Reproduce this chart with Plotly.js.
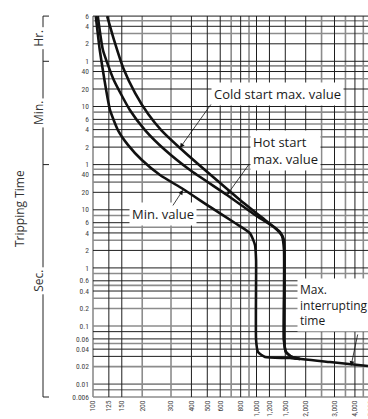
<!DOCTYPE html>
<html><head><meta charset="utf-8">
<script src="https://cdn.plot.ly/plotly-3.0.1.min.js"></script>
<style>html,body{margin:0;padding:0;overflow:hidden;background:#fff}</style>
</head><body>
<div id="chart" style="width:376px;height:419px"></div>
<script>
// ---- data ----
const xTickVals = [100,125,150,200,300,400,500,600,800,1000,1200,1500,2000,3000,4000,5000];
const xTickText = ['100','125','150','200','300','400','500','600','800','1,000','1,200','1,500','2,000','3,000','4,000','5,000'];
const xGridDark = [125,150,400,500,600,800,1000,1200,1500,2000,3000,4000,5000];
const xGridGrey = [100,200,300,700,900,2500,3500,4500];

// tripping time in seconds; labels shown in Hr / Min / Sec units
const yTickVals = [21600,14400,7200,3600,2400,1200,600,360,240,120,60,40,20,10,6,4,2,1,0.6,0.4,0.2,0.1,0.06,0.04,0.02,0.01,0.006];
const yTickText = ['6','4','2','1','40','20','10','6','4','2','1','40','20','10','6','4','2','1','0.6','0.4','0.2','0.1','0.06','0.04','0.02','0.01','0.006'];
const yGridDark = [21600,14400,7200,3600,2400,1200,600,360,240,120,60,40,20,10,6,4,2,1,0.6,0.4,0.08,0.06,0.04,0.03];
const yGridGrey = [18000,10800,3000,1800,480,300,180,50,30,8,5,3,0.8,0.5,0.3,0.2,0.1,0.05,0.02,0.01,0.008,0.006];

// unit bands (seconds): Hr, Min, Sec
const unitNames = ['Hr.','Min.','Sec.'];
const unitBounds = [21600,3600,60,0.006];

const minCurrent = [104,110,117.5,127,142,164,199,257,355,520,739,912,979,994,994,1021,1127,1603,2815,4808];
const minTime    = [21600,5630,1715,523,236,130,72,39.7,22.8,11.2,5.93,3.98,2.48,1.37,0.0574,0.0357,0.0293,0.0281,0.024,0.0205];

const hotCurrent = [107,115,134,168,208,276,392,660,979,1297,1432,1473,1473,1514,1648,1845];
const hotTime    = [21600,5630,1715,523,236,107,48.4,18.0,8.14,4.87,3.54,2.03,0.0574,0.0357,0.0293,0.027];

const coldCurrent = [122,135,153,181,218,262,340,484,793,1127,1393,1473,1473,1514,1648,1845];
const coldTime    = [21600,8050,2760,1020,440,233,116,48.4,14.8,6.68,4.15,3.02,0.0574,0.0357,0.0293,0.027];
</script>
<script>
const L = Math.log10;
const yMin = L(0.006), yMax = L(0.006) + 381/58.1;
const xMin = 2, xMax = 2 + 283/163.5;
const yPaper = v => (L(v) - yMin) / (yMax - yMin);
const xPaper = v => (L(v) - xMin) / (xMax - xMin);
const px2paperX = px => (px - 93) / 283;

const lineStyle = {color:'#111', width:2.6, shape:'spline', smoothing:0.5};
const traces = [
  {x:minCurrent, y:minTime, mode:'lines', line:lineStyle, hoverinfo:'skip'},
  {x:hotCurrent, y:hotTime, mode:'lines', line:lineStyle, hoverinfo:'skip'},
  {x:coldCurrent, y:coldTime, mode:'lines', line:lineStyle, hoverinfo:'skip'}
];

const textFont = {family:'Open Sans, Noto Sans, sans-serif', size:13, color:'#1a1a1a'};
function label(text, I, t, align, xanchor, size){
  return {x:L(I), y:L(t), xref:'x', yref:'y', text:text, showarrow:false,
          font:Object.assign({}, textFont, size ? {size:size} : {}),
          bgcolor:'#fff', align:align||'center', xanchor:xanchor||'center', borderpad:2};
}
function arrow(fromI, fromT, toI, toT){
  return {x:L(toI), y:L(toT), ax:L(fromI), ay:L(fromT), xref:'x', yref:'y', axref:'x', ayref:'y',
          text:'', showarrow:true, arrowhead:2, arrowsize:1.2, arrowwidth:0.8, arrowcolor:'#111', standoff:0};
}
const annotations = [
  label('Cold start max. value', 1335, 985),
  arrow(534, 689, 340, 116),
  label('Hot start<br>max. value', 912, 103, 'left', 'left'),
  arrow(912, 64, 660, 18.0),
  label('Min. value', 268, 8.6),
  arrow(304, 11.2, 355, 21.9),
  label('Max.<br>interrupting<br>time', 1770, 0.23, 'left', 'left', 12),
  arrow(4177, 0.0758, 3785, 0.0205),
  {x:px2paperX(19), y:0.496, xref:'paper', yref:'paper', xanchor:'center', yanchor:'middle', text:'Tripping Time', textangle:-90, showarrow:false,
   font:{family:'Open Sans, Noto Sans, sans-serif', size:12, color:'#333'}}
];

const shapes = [];
// grid
const darkLine = {color:'#1e1e1e', width:1}, greyLine = {color:'#8c8c8c', width:1.6};
yGridGrey.forEach(v => shapes.push({type:'line', layer:'below', xref:'paper', yref:'paper', x0:0, x1:1, y0:yPaper(v), y1:yPaper(v), line:greyLine}));
xGridGrey.forEach(v => shapes.push({type:'line', layer:'below', xref:'paper', yref:'paper', y0:0, y1:1, x0:xPaper(v), x1:xPaper(v), line:greyLine}));
yGridDark.forEach(v => shapes.push({type:'line', layer:'below', xref:'paper', yref:'paper', x0:0, x1:1, y0:yPaper(v), y1:yPaper(v), line:darkLine}));
xGridDark.forEach(v => shapes.push({type:'line', layer:'below', xref:'paper', yref:'paper', y0:0, y1:1, x0:xPaper(v), x1:xPaper(v), line:darkLine}));

// unit bracket at left
const bx = px2paperX(43), bx2 = px2paperX(49);
shapes.push({type:'line', xref:'paper', yref:'paper', x0:bx, x1:bx, y0:yPaper(unitBounds[0]), y1:yPaper(unitBounds[unitBounds.length-1]), line:{color:'#222', width:1}});
unitBounds.forEach(v => shapes.push({type:'line', xref:'paper', yref:'paper', x0:bx, x1:bx2, y0:yPaper(v), y1:yPaper(v), line:{color:'#222', width:1}}));
unitNames.forEach((n, i) => {
  const mid = (yPaper(unitBounds[i]) + yPaper(unitBounds[i+1])) / 2;
  annotations.push({x:px2paperX(39), y:mid, xref:'paper', yref:'paper', xanchor:'center', yanchor:'middle', text:n, textangle:-90, showarrow:false,
    bgcolor:'#fff', borderpad:2, font:{family:'Open Sans, Noto Sans, sans-serif', size:12, color:'#333'}});
});

const tickFont = {family:'Liberation Sans Narrow, Roboto Condensed, Noto Sans Condensed, DejaVu Sans Condensed, sans-serif', size:7.5, color:'#444'};
const layout = {
  width:376, height:419,
  margin:{l:93, r:0, t:16, b:22},
  paper_bgcolor:'#fff', plot_bgcolor:'#fff',
  showlegend:false,
  xaxis:{type:'log', range:[xMin, xMax], tickmode:'array', tickvals:xTickVals, ticktext:xTickText,
    tickangle:-90, tickfont:tickFont, ticks:'', showgrid:false,
    showline:false, zeroline:false, fixedrange:true, ticklabelstandoff:1},
  yaxis:{type:'log', range:[yMin, yMax], tickmode:'array', tickvals:yTickVals, ticktext:yTickText,
    tickfont:tickFont, ticks:'', showgrid:false,
    showline:false, zeroline:false, fixedrange:true, ticklabelstandoff:3},
  annotations:annotations,
  shapes:shapes
};
Plotly.newPlot('chart', traces, layout, {displayModeBar:false, staticPlot:true});
</script>
</body></html>
